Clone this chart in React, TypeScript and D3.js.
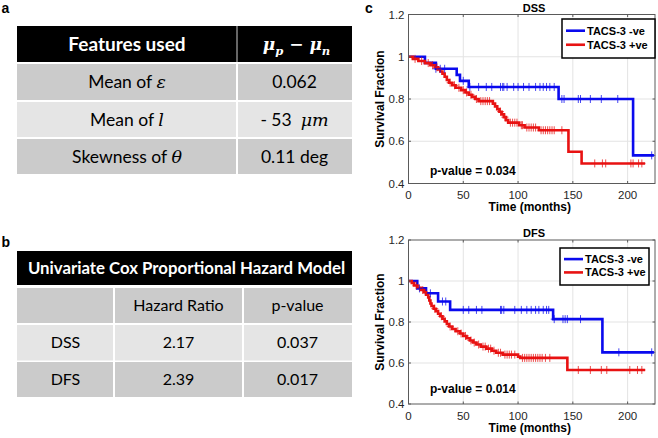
import React from 'react';
import * as d3 from 'd3';

// ---------- Table a ----------
const featureNames = ["Mean of ", "Mean of ", "Skewness of "];
const featureSymbols = ["ε", "l", "θ"];
const diffValues = ["0.062", "- 53  ", "0.11 deg"];
const diffUnits = ["", "μm", ""];

// ---------- Table b ----------
const coxTitle = "Univariate Cox Proportional Hazard Model";
const coxColumns = ["", "Hazard Ratio", "p-value"];
const coxModels = ["DSS", "DFS"];
const coxHazard = ["2.17", "2.39"];
const coxPValues = ["0.037", "0.017"];

// ---------- Survival plots ----------
const xTicks = [0, 50, 100, 150, 200];
const yTicks = [0.4, 0.6, 0.8, 1, 1.2];
const legendLabels = ["TACS-3 -ve", "TACS-3 +ve"];

const dssNegTimes = [0, 15, 25, 44, 47, 55, 137, 205];
const dssNegSurv = [1, 0.971, 0.943, 0.914, 0.886, 0.857, 0.8, 0.533];
const dssNegEnd = 224;
const dssNegCensor = [25, 29, 33, 50, 56, 64, 71, 76, 84, 86, 87, 90, 96, 100, 105, 110, 116, 120, 123, 126, 129, 133, 140, 142, 155, 157, 166, 176, 191, 222];

const dssPosTimes = [0, 4, 9, 15, 20, 24, 27, 29, 31, 33, 35, 37, 40, 43, 48, 52, 55, 58, 61, 64, 77, 79, 81, 83, 85, 87, 89, 91, 101, 106, 119, 146, 158];
const dssPosSurv = [1, 0.99, 0.98, 0.97, 0.96, 0.95, 0.94, 0.93, 0.92, 0.905, 0.89, 0.877, 0.865, 0.853, 0.842, 0.831, 0.82, 0.81, 0.8, 0.79, 0.778, 0.765, 0.752, 0.74, 0.727, 0.714, 0.7, 0.688, 0.676, 0.665, 0.652, 0.55, 0.495];
const dssPosEnd = 216;
const dssPosCensor = [6, 12, 18, 22, 26, 38, 42, 46, 50, 53, 57, 62, 66, 68, 70, 72, 74, 84, 88, 93, 95, 97, 99, 103, 104, 108, 110, 112, 114, 116, 121, 123, 125, 127, 129, 131, 133, 140, 170, 177, 180, 203, 205, 210, 213];

const dfsNegTimes = [0, 8, 16, 27, 38, 132, 177];
const dfsNegSurv = [1, 0.964, 0.94, 0.9, 0.859, 0.814, 0.652];
const dfsNegEnd = 224;
const dfsNegCensor = [10, 20, 31, 34, 50, 55, 62, 67, 84, 85, 87, 97, 103, 108, 112, 116, 119, 123, 126, 128, 133, 141, 143, 145, 157, 192, 222];

const dfsPosTimes = [0, 3, 5, 8, 11, 14, 16, 18, 19, 20, 21, 23, 25, 27, 29, 31, 33, 35, 37, 40, 43, 47, 50, 53, 56, 59, 62, 66, 71, 76, 80, 86, 100, 102, 145];
const dfsPosSurv = [1, 0.99, 0.978, 0.967, 0.956, 0.945, 0.933, 0.92, 0.905, 0.89, 0.878, 0.865, 0.853, 0.84, 0.828, 0.816, 0.803, 0.79, 0.778, 0.766, 0.755, 0.744, 0.732, 0.721, 0.71, 0.7, 0.69, 0.68, 0.67, 0.66, 0.65, 0.641, 0.631, 0.625, 0.566];
const dfsPosEnd = 216;
const dfsPosCensor = [7, 13, 24, 30, 38, 45, 48, 52, 57, 60, 64, 68, 70, 73, 75, 78, 82, 84, 88, 90, 92, 94, 97, 104, 106, 108, 110, 112, 114, 116, 118, 120, 122, 125, 129, 155, 166, 176, 181, 202, 209, 213];

const BLUE = "#0a0aee";
const RED = "#e81212";
const TABLE_FONT = "Lato, 'Open Sans', sans-serif";
const MATH_FONT = "'DejaVu Serif', serif";
const PLOT_FONT = "'Liberation Sans', Arial, sans-serif";
const DARK = "#cbcbcb";
const LIGHT = "#e5e5e5";

type Curve = { times: number[]; surv: number[]; end: number; censor: number[]; color: string };

function survAt(c: Curve, t: number) {
  let s = c.surv[0];
  for (let i = 0; i < c.times.length; i++) if (c.times[i] <= t) s = c.surv[i];
  return s;
}

function Panel(props: {
  title: string; top: number; bottom: number; curves: Curve[]; pText: string; pY: number;
  legend: { x: number; y: number; w: number; h: number };
}) {
  const { title, top, bottom, curves, pText, pY, legend } = props;
  const left = 408.5, right = 655;
  const x = d3.scaleLinear().domain([0, 225]).range([left, right]);
  const y = d3.scaleLinear().domain([0.4, 1.2]).range([bottom, top]);
  const line = d3.line<[number, number]>().x(d => x(d[0])).y(d => y(d[1])).curve(d3.curveStepAfter);
  const tl = 2.5;
  return (
    <g fontFamily={PLOT_FONT}>
      <rect x={left} y={top} width={right - left} height={bottom - top} fill="#fff" />
      {xTicks.filter(t => t > 0).map(t => (
        <line key={"gx" + t} x1={x(t)} x2={x(t)} y1={top} y2={bottom} stroke="#e3e3e3" strokeWidth={1} />
      ))}
      {yTicks.filter(t => t > 0.4 && t < 1.2).map(t => (
        <line key={"gy" + t} x1={left} x2={right} y1={y(t)} y2={y(t)} stroke="#e3e3e3" strokeWidth={1} />
      ))}
      {curves.map((c, i) => {
        const pts: [number, number][] = c.times.map((t, j) => [t, c.surv[j]] as [number, number]);
        pts.push([c.end, c.surv[c.surv.length - 1]]);
        return <path key={"c" + i} d={line(pts) || ""} fill="none" stroke={c.color} strokeWidth={2.6} />;
      })}
      {curves.map((c, i) => (
        <g key={"m" + i} stroke={c.color} strokeWidth={1} opacity={0.75}>
          {c.censor.map((t, j) => {
            const cx = x(t), cy = y(survAt(c, t));
            return <path key={j} d={`M${cx - 3.5},${cy}h7M${cx},${cy - 4}v8`} />;
          })}
        </g>
      ))}
      <rect x={left} y={top} width={right - left} height={bottom - top} fill="none" stroke="#5a5a5a" strokeWidth={1} />
      {xTicks.map(t => (
        <g key={"xt" + t}>
          <line x1={x(t)} x2={x(t)} y1={bottom} y2={bottom - tl} stroke="#5a5a5a" />
          <line x1={x(t)} x2={x(t)} y1={top} y2={top + tl} stroke="#5a5a5a" />
          <text x={x(t)} y={bottom + 15.5} textAnchor="middle" fontSize={11.5} fill="#262626">{t}</text>
        </g>
      ))}
      {yTicks.map(t => (
        <g key={"yt" + t}>
          <line x1={left} x2={left + tl} y1={y(t)} y2={y(t)} stroke="#5a5a5a" />
          <line x1={right} x2={right - tl} y1={y(t)} y2={y(t)} stroke="#5a5a5a" />
          <text x={left - 4} y={y(t) + 4} textAnchor="end" fontSize={11.5} fill="#262626">{String(t)}</text>
        </g>
      ))}
      <text x={534} y={top - 3} textAnchor="middle" fontSize={11} fontWeight="bold" fill="#000">{title}</text>
      <text x={(left + right) / 2 - 2} y={bottom + 27.5} textAnchor="middle" fontSize={12} fontWeight="bold" fill="#000">Time (months)</text>
      <text transform={`translate(384,${(top + bottom) / 2}) rotate(-90)`} textAnchor="middle" fontSize={12} fontWeight="bold" fill="#000">Survival Fraction</text>
      <text x={430} y={pY} fontSize={12} fontWeight="bold" fill="#000">{pText}</text>
      <rect x={legend.x} y={legend.y} width={legend.w} height={legend.h} fill="#fff" stroke="#000" strokeWidth={1.5} />
      {legendLabels.map((lab, i) => {
        const ly = legend.y + legend.h * (i === 0 ? 0.3 : 0.66);
        return (
          <g key={lab}>
            <line x1={legend.x + 4} x2={legend.x + 23} y1={ly} y2={ly} stroke={curves[i].color} strokeWidth={2.6} />
            <text x={legend.x + 25} y={ly + 4} fontSize={11} fontWeight="bold" fill="#000">{lab}</text>
          </g>
        );
      })}
    </g>
  );
}

export default function App() {
  const tL = 17, tR = 352;
  // table a geometry
  const aCol = 237;
  const aHeader = [26, 62];
  const aRows = [[64, 100], [102, 137], [139, 174]];
  // table b geometry
  const bCols = [17, 114, 243, 352];
  const bHeader = [251, 285];
  const bRows = [[288, 323], [325, 360.5], [362, 397]];

  const dss: Curve[] = [
    { times: dssNegTimes, surv: dssNegSurv, end: dssNegEnd, censor: dssNegCensor, color: BLUE },
    { times: dssPosTimes, surv: dssPosSurv, end: dssPosEnd, censor: dssPosCensor, color: RED },
  ];
  const dfs: Curve[] = [
    { times: dfsNegTimes, surv: dfsNegSurv, end: dfsNegEnd, censor: dfsNegCensor, color: BLUE },
    { times: dfsPosTimes, surv: dfsPosSurv, end: dfsPosEnd, censor: dfsPosCensor, color: RED },
  ];

  return (
    <svg width={658} height={438} style={{ position: 'absolute', left: 0, top: 0, background: '#fff' }}>
      <rect width={658} height={438} fill="#fff" />
      {/* panel labels */}
      <text x={1.5} y={13} fontFamily={PLOT_FONT} fontWeight="bold" fontSize={14}>a</text>
      <text x={1.5} y={247} fontFamily={PLOT_FONT} fontWeight="bold" fontSize={14}>b</text>
      <text x={365} y={13} fontFamily={PLOT_FONT} fontWeight="bold" fontSize={14}>c</text>

      {/* Table a */}
      <rect x={tL} y={aHeader[0]} width={tR - tL} height={aHeader[1] - aHeader[0]} fill="#000" />
      <line x1={aCol} x2={aCol} y1={aHeader[0]} y2={aHeader[1]} stroke="#888" strokeWidth={1.5} />
      <text x={(tL + aCol) / 2} y={51} textAnchor="middle" fontFamily={TABLE_FONT} fontWeight="bold" fontSize={19} fill="#fff">Features used</text>
      <text x={(aCol + tR) / 2 + 2} y={50} textAnchor="middle" fontFamily={MATH_FONT} fontWeight="bold" fontStyle="italic" fontSize={17} fill="#fff">
        μ<tspan fontSize={11.5} dy={5}>p</tspan><tspan dy={-5}> − μ</tspan><tspan fontSize={11.5} dy={5}>n</tspan>
      </text>
      {aRows.map((r, i) => (
        <g key={"ar" + i}>
          <rect x={tL} y={r[0]} width={aCol - 1 - tL} height={r[1] - r[0]} fill={i === 1 ? LIGHT : DARK} />
          <rect x={aCol + 1} y={r[0]} width={tR - aCol - 1} height={r[1] - r[0]} fill={i === 1 ? LIGHT : DARK} />
          <text x={(tL + aCol) / 2} y={(r[0] + r[1]) / 2 + 6} textAnchor="middle" fontFamily={TABLE_FONT} fontSize={17.5} fill="#000">
            {featureNames[i]}<tspan fontFamily={MATH_FONT} fontStyle="italic">{featureSymbols[i]}</tspan>
          </text>
          <text x={(aCol + tR) / 2} y={(r[0] + r[1]) / 2 + 6} textAnchor="middle" fontFamily={TABLE_FONT} fontSize={17.5} fill="#000" style={{ whiteSpace: 'pre' }}>
            {diffValues[i]}<tspan fontFamily={MATH_FONT} fontStyle="italic">{diffUnits[i]}</tspan>
          </text>
        </g>
      ))}

      {/* Table b */}
      <rect x={tL} y={bHeader[0]} width={tR - tL} height={bHeader[1] - bHeader[0]} fill="#000" />
      <text x={(tL + tR) / 2 + 2} y={274} textAnchor="middle" fontFamily={TABLE_FONT} fontWeight="bold" fontSize={16.8} fill="#fff">{coxTitle}</text>
      {bRows.map((r, i) => (
        <g key={"br" + i}>
          {[0, 1, 2].map(j => (
            <g key={j}>
              <rect x={bCols[j] + (j > 0 ? 1 : 0)} y={r[0]} width={bCols[j + 1] - bCols[j] - (j > 0 ? 1 : 0) - (j < 2 ? 1 : 0)} height={r[1] - r[0]} fill={i === 1 ? LIGHT : DARK} />
              <text x={(bCols[j] + bCols[j + 1]) / 2} y={(r[0] + r[1]) / 2 + 5.5} textAnchor="middle" fontFamily={TABLE_FONT} fontSize={16} fill="#000">
                {i === 0 ? coxColumns[j] : j === 0 ? coxModels[i - 1] : j === 1 ? coxHazard[i - 1] : coxPValues[i - 1]}
              </text>
            </g>
          ))}
        </g>
      ))}

      {/* Panel c */}
      <Panel title="DSS" top={14.5} bottom={183.5} curves={dss} pText="p-value = 0.034" pY={175}
        legend={{ x: 562, y: 19, w: 93, h: 39 }} />
      <Panel title="DFS" top={240} bottom={404} curves={dfs} pText="p-value = 0.014" pY={393}
        legend={{ x: 560, y: 248, w: 89, h: 37 }} />
    </svg>
  );
}
